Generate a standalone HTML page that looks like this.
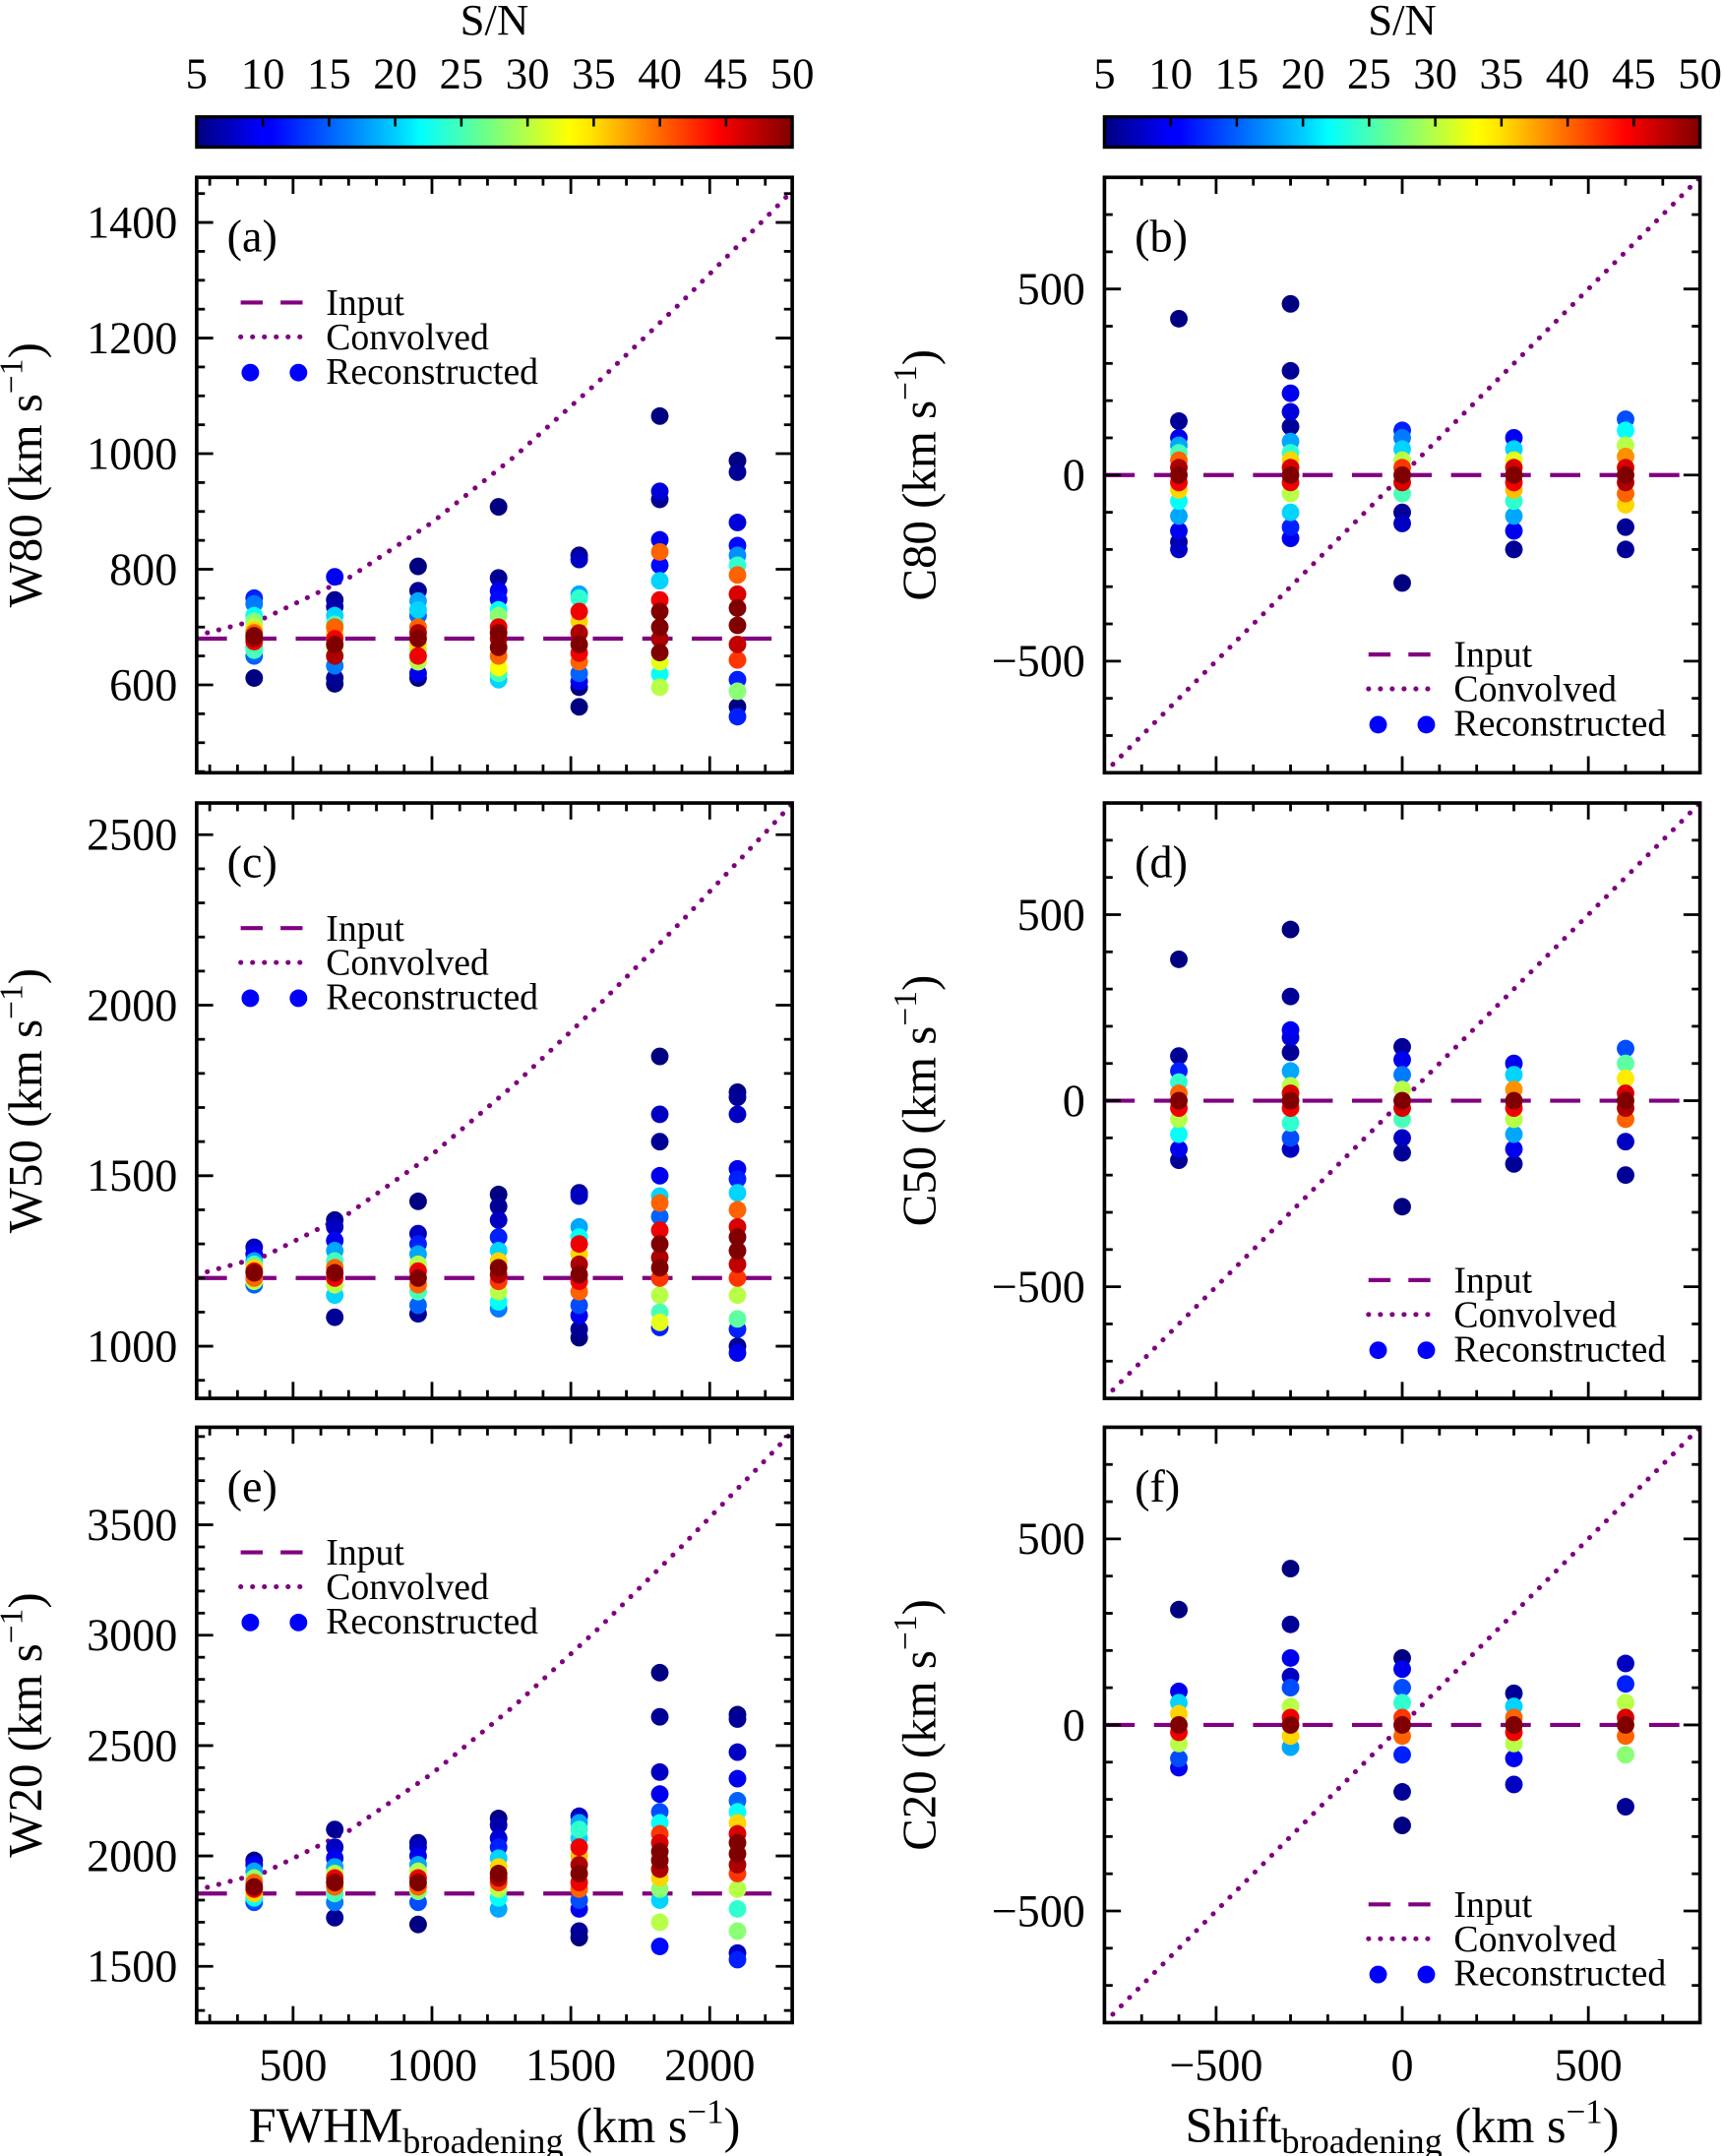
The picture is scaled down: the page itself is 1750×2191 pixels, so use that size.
<!DOCTYPE html>
<html><head><meta charset="utf-8"><style>
html,body{margin:0;padding:0;background:#fff;}
svg{display:block;font-family:"Liberation Serif",serif;}
</style></head><body>
<svg id="fig" width="1750" height="2191" viewBox="0 0 1252 1568" preserveAspectRatio="none" xmlns="http://www.w3.org/2000/svg">
<defs>
<linearGradient id="jet" x1="0" x2="1" y1="0" y2="0">
<stop offset="0" stop-color="#00007f"/><stop offset="0.11" stop-color="#0000ff"/><stop offset="0.125" stop-color="#0000ff"/>
<stop offset="0.34" stop-color="#00d4ff"/><stop offset="0.375" stop-color="#00ffff"/><stop offset="0.5" stop-color="#7dff7a"/>
<stop offset="0.625" stop-color="#ffff00"/><stop offset="0.66" stop-color="#ffe600"/><stop offset="0.875" stop-color="#ff0000"/><stop offset="1" stop-color="#7f0000"/>
</linearGradient>
</defs>
</svg>
<script>
// ---- data ----
const fwhmX = [360, 650, 950, 1240, 1530, 1820, 2100];
const shiftX = [-600, -300, 0, 300, 600];
const convX = [150, 400, 700, 1000, 1300, 1600, 1900, 2200, 2300];
const convW80 = [685, 716, 785, 881, 996, 1125, 1263, 1407, 1456];
const convW50 = [1209, 1265, 1389, 1562, 1769, 2000, 2247, 2506, 2594];
const convW20 = [1844, 1927, 2113, 2373, 2684, 3031, 3403, 3793, 3926];
const inputW80 = 680, inputW50 = 1200, inputW20 = 1830, inputC = 0;
const convShift = [-800, 800];
const cbTicks = [5, 10, 15, 20, 25, 30, 35, 40, 45, 50];
const ticksW80 = [600, 800, 1000, 1200, 1400];
const ticksW50 = [1000, 1500, 2000, 2500];
const ticksW20 = [1500, 2000, 2500, 3000, 3500];
const ticksC = [-500, 0, 500];
const ticksFwhm = [500, 1000, 1500, 2000];
const ticksShift = [-500, 0, 500];

const recW80 = [
 [[612,5],[650,15],[665,20],[750,12],[740,16],[720,22],[700,30],[690,40],[680,48],[675,45],[695,35],[660,25],[710,28],[685,50]],
 [[787,10],[747,6],[735,7],[612,6],[602,5],[633,16],[720,20],[705,25],[690,35],[680,45],[670,50],[650,48],[700,40],[665,30]],
 [[805,5],[763,6],[745,18],[730,20],[720,15],[620,10],[612,5],[640,30],[650,45],[700,40],[690,48],[680,50],[670,35],[660,28]],
 [[908,5],[785,6],[763,10],[748,11],[730,22],[720,28],[700,45],[690,50],[680,48],[665,50],[650,40],[630,33],[620,25],[609,20]],
 [[824,5],[817,8],[757,18],[750,24],[727,45],[710,35],[690,48],[670,50],[655,45],[640,40],[620,15],[606,10],[596,5],[562,5]],
 [[1065,5],[935,9],[921,6],[851,10],[830,40],[807,11],[780,20],[747,45],[727,50],[700,50],[680,48],[656,50],[640,32],[619,22],[596,30]],
 [[988,5],[968,6],[881,9],[841,11],[824,17],[807,24],[790,40],[757,46],[733,50],[703,50],[670,47],[643,42],[609,12],[589,28],[562,5],[545,12]]
];
const recW50 = [
 [[1290,8],[1270,10],[1250,18],[1240,25],[1230,35],[1220,45],[1215,50],[1200,40],[1190,30],[1180,15]],
 [[1370,6],[1350,8],[1310,10],[1280,18],[1250,25],[1230,40],[1215,50],[1200,45],[1180,30],[1150,20],[1085,6]],
 [[1425,5],[1330,8],[1300,12],[1270,18],[1240,30],[1220,45],[1200,50],[1180,40],[1160,25],[1120,15],[1095,6]],
 [[1445,5],[1410,6],[1370,8],[1320,12],[1280,20],[1250,35],[1230,50],[1210,48],[1190,42],[1160,30],[1130,22],[1110,16]],
 [[1450,6],[1440,8],[1350,18],[1320,22],[1300,45],[1270,35],[1240,48],[1210,50],[1190,45],[1160,40],[1120,14],[1090,10],[1050,6],[1025,5]],
 [[1850,5],[1680,8],[1600,6],[1500,10],[1440,20],[1420,40],[1380,15],[1340,45],[1300,50],[1260,48],[1230,50],[1200,42],[1150,30],[1100,25],[1070,32],[1055,12]],
 [[1745,5],[1730,6],[1680,8],[1520,10],[1490,12],[1450,20],[1400,40],[1350,46],[1320,50],[1280,50],[1240,47],[1200,42],[1150,30],[1080,26],[1050,12],[1000,6],[980,10]]
];
const recW20 = [
 [[1980,6],[1960,10],[1930,18],[1900,28],[1880,40],[1860,50],[1850,45],[1830,35],[1810,22],[1790,14]],
 [[2120,6],[2040,8],[1990,10],[1950,18],[1920,30],[1900,45],[1880,50],[1860,40],[1830,25],[1790,16],[1720,6]],
 [[2060,6],[2040,8],[2000,10],[1960,18],[1930,30],[1900,45],[1880,50],[1860,40],[1840,28],[1790,14],[1690,5]],
 [[2170,5],[2140,7],[2080,9],[2040,12],[1990,20],[1950,35],[1920,50],[1900,48],[1880,42],[1850,30],[1810,22],[1760,18]],
 [[2180,8],[2150,18],[2120,24],[2080,20],[2040,45],[2000,36],[1960,48],[1920,50],[1880,45],[1850,40],[1800,14],[1760,10],[1660,6],[1630,5]],
 [[2830,5],[2630,6],[2380,8],[2280,10],[2200,14],[2150,22],[2100,42],[2060,46],[2020,50],[1980,50],[1940,48],[1900,35],[1850,28],[1800,20],[1700,30],[1590,11]],
 [[2640,5],[2620,6],[2470,8],[2350,10],[2250,15],[2200,22],[2150,35],[2100,46],[2060,50],[2010,50],[1960,48],[1920,42],[1850,30],[1760,24],[1660,28],[1560,8],[1530,12]]
];
const recC80 = [
 [[420,5],[145,6],[100,10],[80,18],[60,25],[40,40],[20,48],[0,50],[-20,45],[-40,35],[-70,22],[-110,18],[-150,10],[-180,6],[-200,8]],
 [[460,5],[280,6],[220,10],[170,9],[130,6],[90,18],[60,24],[40,35],[20,46],[0,50],[-20,45],[-50,30],[-100,20],[-140,12],[-170,10]],
 [[120,12],[100,16],[70,20],[40,30],[20,42],[0,50],[-20,46],[-50,25],[-100,6],[-130,8],[-290,5]],
 [[100,10],[70,20],[40,32],[20,46],[0,50],[-20,45],[-40,36],[-70,24],[-110,18],[-150,10],[-200,6]],
 [[150,14],[120,22],[80,30],[50,38],[20,46],[0,50],[-20,48],[-50,40],[-80,35],[-140,6],[-200,6]]
];
const recC50 = [
 [[380,5],[120,6],[80,12],[50,24],[20,40],[0,50],[-20,45],[-50,30],[-90,22],[-130,10],[-160,6]],
 [[460,5],[280,6],[190,10],[170,9],[130,6],[80,18],[40,30],[20,46],[0,50],[-20,45],[-60,24],[-100,14],[-130,8]],
 [[145,6],[110,10],[70,16],[30,30],[0,50],[-20,46],[-50,25],[-100,8],[-140,6],[-285,5]],
 [[100,10],[70,20],[30,38],[0,50],[-20,45],[-50,30],[-90,18],[-130,10],[-170,6]],
 [[140,14],[100,26],[60,34],[20,46],[0,50],[-20,48],[-50,40],[-110,8],[-200,6]]
];
const recC20 = [
 [[310,5],[90,10],[60,20],[30,35],[0,50],[-20,45],[-50,30],[-90,14],[-115,10]],
 [[420,5],[270,6],[180,10],[130,8],[100,14],[50,30],[20,45],[0,50],[-30,35],[-60,18]],
 [[180,5],[150,10],[100,14],[60,24],[20,42],[0,50],[-30,40],[-80,12],[-180,6],[-270,5]],
 [[85,6],[50,20],[20,40],[0,50],[-20,45],[-50,30],[-90,10],[-160,8]],
 [[165,8],[110,12],[60,30],[20,46],[0,50],[-30,40],[-80,28],[-220,6]]
];

// ---- helpers ----
const NS = "http://www.w3.org/2000/svg";
const svg = document.getElementById('fig');
function mk(tag, attrs, parent) {
  const e = document.createElementNS(NS, tag);
  for (const k in attrs) e.setAttribute(k, attrs[k]);
  (parent || svg).appendChild(e);
  return e;
}
function jet(s) {
  const t = Math.max(0, Math.min(1, (s - 5) / 45));
  const c = v => Math.round(255 * Math.max(0, Math.min(1, v)));
  return `rgb(${c(1.5 - Math.abs(4*t - 3))},${c(1.5 - Math.abs(4*t - 2))},${c(1.5 - Math.abs(4*t - 1))})`;
}
const PURPLE = '#800080';
const R = 6.4;

function panel(cfg) {
  const {L, T, W, H, xmin, xmax, ymin, ymax} = cfg;
  const g = mk('g', {});
  
  
  const sx = v => L + (v - xmin) / (xmax - xmin) * W;
  const sy = v => T + H - (v - ymin) / (ymax - ymin) * H;
  const clip = 'clip-' + cfg.name;
  const cp = mk('clipPath', {id: clip}, g);
  mk('rect', {x: L, y: T, width: W, height: H}, cp);
  const plot = mk('g', {'clip-path': `url(#${clip})`}, g);
  const inp = mk('line', {x1: L, x2: L + W, y1: sy(cfg.input), y2: sy(cfg.input), stroke: PURPLE, 'stroke-width': 3, 'stroke-dasharray': '22 14'}, plot);
  
  
  const pts = cfg.convX.map((x, i) => sx(x).toFixed(1) + ',' + sy(cfg.convY[i]).toFixed(1)).join(' ');
  const cv = mk('polyline', {points: pts, fill: 'none', stroke: PURPLE, 'stroke-width': 3.6, 'stroke-dasharray': '0.1 8.5', 'stroke-linecap': 'round'}, plot);
  
  
  const all = [];
  cfg.rec.forEach((col, i) => col.forEach(p => all.push([cfg.px[i], p[0], p[1]])));
  all.sort((a, b) => a[2] - b[2]);
  all.forEach(p => {
    const c = mk('circle', {cx: sx(p[0]).toFixed(1), cy: sy(p[1]).toFixed(1), r: R, fill: jet(p[2])}, plot);
    
    
  });
  mk('rect', {x: L, y: T, width: W, height: H, fill: 'none', stroke: '#000', 'stroke-width': 2.6}, g);
  const tk = (x1, y1, x2, y2) => mk('line', {x1, y1, x2, y2, stroke: '#000', 'stroke-width': 2}, g);
  for (let v = Math.ceil(xmin / cfg.xminor) * cfg.xminor; v <= xmax; v += cfg.xminor) {
    const major = Math.abs(v % cfg.xmajor) < 1e-6;
    const len = major ? 12 : 6;
    tk(sx(v), T + H, sx(v), T + H - len); tk(sx(v), T, sx(v), T + len);
  }
  for (let v = Math.ceil(ymin / cfg.yminor) * cfg.yminor; v <= ymax; v += cfg.yminor) {
    const major = Math.abs(v % cfg.ymajor) < 1e-6;
    const len = major ? 12 : 6;
    tk(L, sy(v), L + len, sy(v)); tk(L + W, sy(v), L + W - len, sy(v));
  }
  cfg.yticks.forEach(v => {
    const t = mk('text', {x: L - 14, y: sy(v) + 11, 'text-anchor': 'end', 'font-size': 33}, g);
    t.textContent = v < 0 ? '\u2212' + Math.abs(v) : String(v);
    
    
  });
  if (cfg.xticks) cfg.xticks.forEach(v => {
    const t = mk('text', {x: sx(v), y: T + H + 42, 'text-anchor': 'middle', 'font-size': 33}, g);
    t.textContent = v < 0 ? '\u2212' + Math.abs(v) : String(v);
    
    
  });
  const yt = mk('text', {transform: `translate(${cfg.ytx},${T + H / 2}) rotate(-90)`, 'text-anchor': 'middle', 'font-size': 35}, g);
  yt.innerHTML = cfg.ylab + ' (km s<tspan dy="-14" font-size="24">\u22121</tspan><tspan dy="14">)</tspan>';
  
  
  const pl = mk('text', {x: L + 22, y: T + 54, 'font-size': 33}, g);
  pl.textContent = cfg.label;
  
  
  const lg = mk('g', {}, g);
  
  
  const lx = cfg.legX, ly = cfg.legY;
  mk('line', {x1: lx, x2: lx + 45, y1: ly, y2: ly, stroke: PURPLE, 'stroke-width': 3, 'stroke-dasharray': '16 13'}, lg);
  mk('line', {x1: lx, x2: lx + 45, y1: ly + 25, y2: ly + 25, stroke: PURPLE, 'stroke-width': 3.6, 'stroke-dasharray': '0.1 8.5', 'stroke-linecap': 'round'}, lg);
  mk('circle', {cx: lx + 7, cy: ly + 51, r: R, fill: '#0000ff'}, lg);
  mk('circle', {cx: lx + 42, cy: ly + 51, r: R, fill: '#0000ff'}, lg);
  ['Input', 'Convolved', 'Reconstructed'].forEach((s, i) => {
    const t = mk('text', {x: lx + 62, y: ly + 9 + 25 * i, 'font-size': 27}, lg);
    t.textContent = s;
    
    
  });
}

const LL = 143, RL = 803, PW = 433, PH = 433, tops = [129, 584, 1038];
const leftCfg = [
  {name: 'panel-a', label: '(a)', ymin: 448, ymax: 1478, ymajor: 200, yminor: 50, yticks: ticksW80, input: inputW80, convY: convW80, rec: recW80, ylab: 'W80'},
  {name: 'panel-c', label: '(c)', ymin: 847, ymax: 2593, ymajor: 500, yminor: 100, yticks: ticksW50, input: inputW50, convY: convW50, rec: recW50, ylab: 'W50'},
  {name: 'panel-e', label: '(e)', ymin: 1245, ymax: 3942, ymajor: 500, yminor: 100, yticks: ticksW20, input: inputW20, convY: convW20, rec: recW20, ylab: 'W20'}
];
leftCfg.forEach((c, i) => panel(Object.assign(c, {
  L: LL, T: tops[i], W: PW, H: PH, xmin: 153, xmax: 2297, xmajor: 500, xminor: 100,
  px: fwhmX, convX: convX, xticks: i === 2 ? ticksFwhm : null, ytx: 30,
  legX: 175, legY: tops[i] + 91
})));
const rightCfg = [
  {name: 'panel-b', label: '(b)', rec: recC80, ylab: 'C80'},
  {name: 'panel-d', label: '(d)', rec: recC50, ylab: 'C50'},
  {name: 'panel-f', label: '(f)', rec: recC20, ylab: 'C20'}
];
rightCfg.forEach((c, i) => panel(Object.assign(c, {
  L: RL, T: tops[i], W: PW, H: PH, xmin: -800, xmax: 800, ymin: -800, ymax: 800,
  xmajor: 500, xminor: 100, ymajor: 500, yminor: 100, yticks: ticksC, input: inputC,
  px: shiftX, convX: convShift, convY: convShift, xticks: i === 2 ? ticksShift : null, ytx: 680,
  legX: 995, legY: tops[i] + 347
})));

[[LL, 'FWHM'], [RL, 'Shift']].forEach(([L, s]) => {
  const t = mk('text', {x: L + PW / 2, y: 1558, 'text-anchor': 'middle', 'font-size': 36});
  t.innerHTML = s + '<tspan dy="8" font-size="26">broadening</tspan><tspan dy="-8"> (km s</tspan><tspan dy="-14" font-size="25">\u22121</tspan><tspan dy="14">)</tspan>';
  
  
});

[LL, RL].forEach(L => {
  const g = mk('g', {});
  
  
  const top = 85, h = 22;
  mk('rect', {x: L, y: top, width: PW, height: h, fill: 'url(#jet)', stroke: '#000', 'stroke-width': 2.4}, g);
  const cx = v => L + (v - 5) / 45 * PW;
  cbTicks.forEach(v => {
    mk('line', {x1: cx(v), x2: cx(v), y1: top, y2: top + 7, stroke: '#000', 'stroke-width': 1.8}, g);
    const t = mk('text', {x: cx(v), y: 64, 'text-anchor': 'middle', 'font-size': 32}, g);
    t.textContent = v;
    
    
  });
  const t = mk('text', {x: L + PW / 2, y: 25, 'text-anchor': 'middle', 'font-size': 32}, g);
  t.textContent = 'S/N';
  
  
});
</script>
</body></html>
